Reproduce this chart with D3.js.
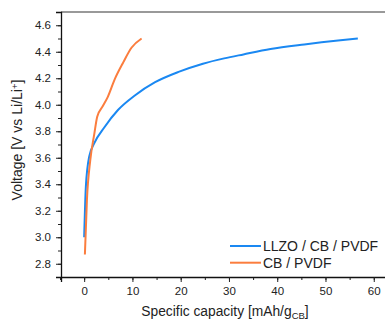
<!DOCTYPE html>
<html>
<head>
<meta charset="utf-8">
<script src="https://cdn.jsdelivr.net/npm/d3@7"></script>
<style>
  body { margin: 0; background: #fff; }
  text { font-family: "Liberation Sans", Arial, sans-serif; fill: #222; }
</style>
</head>
<body>
<div id="graph"></div>
<script>
//series data
var llzoCap = [0, 0.35, 1.05, 2.1, 4.2, 7.0, 10.5, 14.7, 19.7, 24.6, 29, 33, 38.6, 45.6, 52.6, 56.7]
var llzoV   = [3.0, 3.38, 3.61, 3.71, 3.83, 3.96, 4.07, 4.17, 4.25, 4.31, 4.35, 4.38, 4.42, 4.455, 4.485, 4.50]
var cbCap = [0.15, 0.57, 1.26, 2.1, 2.7, 3.87, 4.9, 6.3, 8.1, 9.8, 11.9]
var cbV   = [2.87, 3.28, 3.58, 3.78, 3.91, 3.99, 4.06, 4.19, 4.32, 4.43, 4.50]

var seriesNames = ["LLZO / CB / PVDF", "CB / PVDF"]
var seriesColors = ["#1a88f2", "#fb7d3e"]

var xTicks = [0, 10, 20, 30, 40, 50, 60]
var yTicks = [2.8, 3.0, 3.2, 3.4, 3.6, 3.8, 4.0, 4.2, 4.4, 4.6]

//margins
var margin = {top: 12, right: -10, bottom: 43, left: 61},
  width = 385 - margin.left - margin.right,
  height = 320 - margin.top - margin.bottom;

var svg = d3.select("#graph")
.append("svg")
  .attr("width", 385)
  .attr("height", 320)
.append("g")
  .attr("transform", "translate(" + margin.left + "," + margin.top + ")");

var x = d3.scaleLinear()
  .domain([-4.8, 64.4])
  .range([0, width]);

var y = d3.scaleLinear()
  .domain([2.7, 4.7])
  .range([height, 0]);

//top frame line
svg.append("line")
  .attr("x1", 0).attr("x2", width)
  .attr("y1", 0).attr("y2", 0)
  .attr("stroke", "#777")
  .attr("stroke-width", 1.5)

//minor ticks
svg.append("g")
  .attr("transform", "translate(0," + height + ")")
  .call(d3.axisBottom(x).tickValues(d3.range(-5, 65, 5)).tickSize(3).tickFormat(""))
  .call(g => g.select(".domain").remove())

svg.append("g")
  .call(d3.axisLeft(y).tickValues(d3.range(2.7, 4.71, 0.1)).tickSize(3).tickFormat(""))
  .call(g => g.select(".domain").remove())

//major axes
var xAxis = svg.append("g")
  .attr("transform", "translate(0," + height + ")")
  .call(d3.axisBottom(x).tickValues(xTicks).tickSize(5).tickPadding(5).tickFormat(d3.format("d")))

var yAxis = svg.append("g")
  .call(d3.axisLeft(y).tickValues(yTicks).tickSize(5).tickPadding(5).tickFormat(d3.format(".1f")))

svg.selectAll(".tick line").attr("stroke", "#222")
svg.selectAll(".domain").attr("stroke", "#111").attr("stroke-width", 1.3)
svg.selectAll(".tick text").style("font-size", "11.5px").style("font-family", "Liberation Sans, Arial, sans-serif").attr("fill", "#222")

//lines
var line = d3.line()
  .x(function(d){ return x(d[0]) })
  .y(function(d){ return y(d[1]) })
  .curve(d3.curveMonotoneX)

var series = [d3.zip(llzoCap, llzoV), d3.zip(cbCap, cbV)]

svg.selectAll(".series")
.data(series)
.enter()
.append("path")
  .attr("d", line)
  .attr("fill", "none")
  .attr("stroke", function(d, i){ return seriesColors[i] })
  .attr("stroke-width", 2)

//legend
var legend = svg.selectAll(".legend")
.data(seriesNames)
.enter()
.append("g")
  .attr("transform", function(d, i){ return "translate(" + (230 - margin.left) + "," + (246 - margin.top + i * 16.7) + ")" })

legend.append("line")
  .attr("x1", 0).attr("x2", 31)
  .attr("stroke", function(d, i){ return seriesColors[i] })
  .attr("stroke-width", 2)

legend.append("text")
  .attr("x", 33)
  .attr("dy", "0.35em")
  .style("font-size", "14px")
  .text(function(d){ return d })

//axis titles
var xt = svg.append("text")
  .attr("x", 225 - margin.left)
  .attr("y", 316 - margin.top)
  .attr("text-anchor", "middle")
  .style("font-size", "13.8px")
xt.append("tspan").text("Specific capacity [mAh/g")
xt.append("tspan").text("CB").attr("baseline-shift", "-25%").style("font-size", "9.5px")
xt.append("tspan").text("]")

var yt = svg.append("text")
  .attr("transform", "translate(" + (22 - margin.left) + "," + (140 - margin.top) + ") rotate(-90)")
  .attr("text-anchor", "middle")
  .style("font-size", "14px")
yt.append("tspan").text("Voltage [V vs Li/Li")
yt.append("tspan").text("+").attr("baseline-shift", "40%").style("font-size", "9.5px")
yt.append("tspan").text("]")
</script>
</body>
</html>
